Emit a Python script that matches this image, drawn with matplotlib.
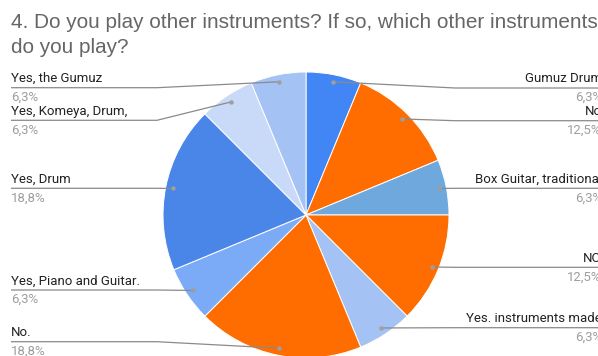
import numpy as np
import matplotlib
matplotlib.use('Agg')
import matplotlib.pyplot as plt

# answers to question 4, counted responses (16 in total)
labels = ['Gumuz Drum', 'No', 'Box Guitar, traditional', 'NO',
          'Yes. instruments made', 'No.', 'Yes, Piano and Guitar.',
          'Yes, Drum', 'Yes, Komeya, Drum,', 'Yes, the Gumuz']
counts = [1, 2, 1, 2, 1, 3, 1, 3, 1, 1]
colors = ['#4285f4', '#ff6d01', '#6fa8dc', '#ff6d01', '#a4c2f4',
          '#ff6d01', '#7baaf7', '#4a86e8', '#c9daf8', '#a4c2f4']

# vertical position (pixels from top) of each label's underline
label_y = [88, 120.7, 188.3, 267.3, 327.7, 341.7, 290, 188.3, 120.3, 87.7]

W, H = 598, 356
cx, cy, R = 306, 215, 143

fig = plt.figure(figsize=(W / 100, H / 100), dpi=100)
ax = fig.add_axes([0, 0, 1, 1])

wedges, _ = ax.pie(counts, colors=colors, startangle=90, counterclock=False,
                   center=(cx, H - cy), radius=R,
                   wedgeprops=dict(linewidth=0.7, edgecolor='white'))
ax.set_xlim(0, W)
ax.set_ylim(0, H)
ax.set_aspect('equal')
ax.axis('off')

total = float(sum(counts))
for w, lab, n, ly in zip(wedges, labels, counts, label_y):
    ang = np.deg2rad((w.theta1 + w.theta2) / 2)
    dx = cx + 0.95 * R * np.cos(ang)
    dy = (H - cy) + 0.95 * R * np.sin(ang)
    y = H - ly
    pct = np.floor(n / total * 1000 + 0.5) / 10
    pct_txt = ('%.1f%%' % pct).replace('.', ',')
    if dx < cx:
        knee, end, tx, ha = cx - R - 6, 11, 11, 'left'
    else:
        knee, end, tx, ha = cx + R + 6, W, 602, 'right'
    ax.plot([dx, knee, end], [dy, y, y], color='#8a8a8a', lw=0.9,
            solid_capstyle='butt', zorder=3)
    ax.plot(dx, dy, 'o', color='#9e9e9e', ms=3.2, mew=0, zorder=4)
    ax.text(tx, y + 9, lab, ha=ha, va='center', fontsize=9.5,
            family='Roboto', color='#222222')
    ax.text(tx, y - 9.5, pct_txt, ha=ha, va='center', fontsize=9.5,
            family='Roboto', color='#9e9e9e')

# title, wrapped over two lines
ax.text(11, H - 28.3, '4. Do you play other instruments? If so, which other instruments',
        ha='left', va='baseline', fontsize=14.95, family='Liberation Sans', color='#666666')
ax.text(11, H - 53.3, 'do you play?', ha='left', va='baseline', fontsize=14.95,
        family='Liberation Sans', color='#666666')

fig.savefig('out.png', dpi=100)
